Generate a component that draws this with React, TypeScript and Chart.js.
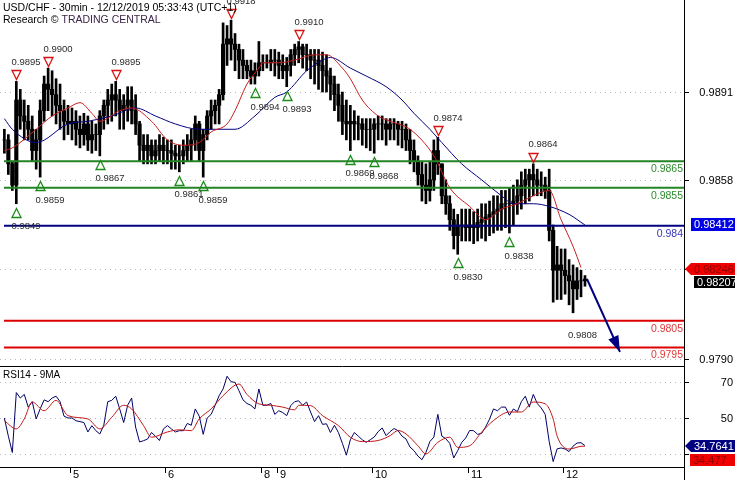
import React, { useEffect, useRef } from "react";
import { Chart, registerables } from "chart.js";
Chart.register(...registerables);

const FONT = "'Liberation Sans', Arial, sans-serif";

// ---- x axis: hourly bar index (Dec 4 07:00 ... Dec 12 05:00, UTC+1) ----
const dayStartIdx = [17, 41, 65, 69, 93, 117, 141];
const dayLabels = ["5", "6", "8", "9", "10", "11", "12"];

// ---- USD/CHF bars ----
const highs = [
  0.9877, 0.9875, 0.9865, 0.9895, 0.9892, 0.9888, 0.9886, 0.9882, 0.9877, 0.9888, 0.9897, 0.9900, 0.9899, 0.9896, 0.9894, 0.9888, 0.9886,
  0.9885, 0.9884, 0.9882, 0.9883, 0.9882, 0.9880, 0.9879, 0.9884, 0.9888, 0.9892, 0.9894, 0.9895, 0.9892, 0.9890, 0.9893, 0.9893, 0.9890, 0.9880, 0.9875, 0.9875, 0.9873, 0.9873, 0.9875, 0.9874,
  0.9873, 0.9873, 0.9871, 0.9871, 0.9873, 0.9875, 0.9877, 0.9882, 0.9880, 0.9877, 0.9884, 0.9888, 0.9888, 0.9892, 0.9917, 0.9916, 0.9918, 0.9913, 0.9909, 0.9907, 0.9903, 0.9903, 0.9902, 0.9910,
  0.9905, 0.9905, 0.9907, 0.9907,
  0.9906, 0.9905, 0.9904, 0.9907, 0.9909, 0.9910, 0.9909, 0.9909, 0.9907, 0.9907, 0.9907, 0.9906, 0.9905, 0.9900, 0.9897, 0.9894, 0.9891, 0.9888, 0.9886, 0.9884, 0.9882, 0.9881, 0.9881, 0.9881,
  0.9881, 0.9882, 0.9882, 0.9881, 0.9881, 0.9881, 0.9880, 0.9880, 0.9879, 0.9877, 0.9873, 0.9867, 0.9865, 0.9864, 0.9865, 0.9873, 0.9874, 0.9864, 0.9858, 0.9852, 0.9847, 0.9845, 0.9847, 0.9847,
  0.9847, 0.9846, 0.9847, 0.9849, 0.9849, 0.9850, 0.9852, 0.9852, 0.9854, 0.9854, 0.9855, 0.9856, 0.9858, 0.9861, 0.9862, 0.9862, 0.9864, 0.9862, 0.9861, 0.9859, 0.9862, 0.9841, 0.9833, 0.9832,
  0.9832, 0.9828, 0.9826, 0.9825, 0.9824, 0.9822,
];
const lows = [
  0.9868, 0.9860, 0.9854, 0.9849, 0.9877, 0.9873, 0.9873, 0.9865, 0.9862, 0.9859, 0.9880, 0.9884, 0.9882, 0.9879, 0.9877, 0.9873, 0.9875,
  0.9873, 0.9871, 0.9870, 0.9871, 0.9869, 0.9868, 0.9869, 0.9867, 0.9877, 0.9879, 0.9880, 0.9882, 0.9877, 0.9877, 0.9880, 0.9879, 0.9875, 0.9865, 0.9864, 0.9864, 0.9864, 0.9864, 0.9865, 0.9864,
  0.9864, 0.9862, 0.9862, 0.9861, 0.9864, 0.9865, 0.9865, 0.9869, 0.9865, 0.9859, 0.9873, 0.9877, 0.9879, 0.9879, 0.9888, 0.9901, 0.9903, 0.9899, 0.9896, 0.9896, 0.9896, 0.9894, 0.9894, 0.9897,
  0.9899, 0.9900, 0.9899, 0.9897,
  0.9896, 0.9896, 0.9893, 0.9897, 0.9901, 0.9902, 0.9900, 0.9899, 0.9896, 0.9894, 0.9892, 0.9891, 0.9891, 0.9888, 0.9884, 0.9880, 0.9875, 0.9873, 0.9869, 0.9873, 0.9873, 0.9871, 0.9870, 0.9869,
  0.9868, 0.9873, 0.9873, 0.9871, 0.9873, 0.9873, 0.9871, 0.9870, 0.9869, 0.9864, 0.9861, 0.9856, 0.9850, 0.9849, 0.9850, 0.9854, 0.9860, 0.9849, 0.9845, 0.9839, 0.9832, 0.9830, 0.9835, 0.9835,
  0.9835, 0.9834, 0.9835, 0.9836, 0.9835, 0.9837, 0.9838, 0.9839, 0.9839, 0.9840, 0.9838, 0.9841, 0.9845, 0.9847, 0.9849, 0.9850, 0.9852, 0.9852, 0.9852, 0.9851, 0.9835, 0.9812, 0.9813, 0.9813,
  0.9815, 0.9811, 0.9808, 0.9813, 0.9814, 0.9818,
];
const closes = [
  0.9873, 0.9864, 0.9856, 0.9888, 0.9882, 0.9880, 0.9877, 0.9869, 0.9873, 0.9884, 0.9894, 0.9892, 0.9890, 0.9886, 0.9884, 0.9880, 0.9879,
  0.9880, 0.9877, 0.9875, 0.9879, 0.9873, 0.9875, 0.9875, 0.9882, 0.9886, 0.9888, 0.9890, 0.9888, 0.9884, 0.9886, 0.9888, 0.9884, 0.9879, 0.9871, 0.9869, 0.9871, 0.9867, 0.9869, 0.9871, 0.9869,
  0.9869, 0.9868, 0.9867, 0.9867, 0.9869, 0.9871, 0.9873, 0.9879, 0.9869, 0.9875, 0.9882, 0.9884, 0.9886, 0.9890, 0.9909, 0.9911, 0.9909, 0.9907, 0.9903, 0.9901, 0.9899, 0.9897, 0.9899, 0.9902,
  0.9902, 0.9902, 0.9903, 0.9903,
  0.9901, 0.9899, 0.9901, 0.9905, 0.9907, 0.9908, 0.9905, 0.9905, 0.9903, 0.9903, 0.9901, 0.9899, 0.9897, 0.9894, 0.9890, 0.9886, 0.9880, 0.9879, 0.9880, 0.9879, 0.9879, 0.9877, 0.9877, 0.9877,
  0.9879, 0.9879, 0.9879, 0.9877, 0.9879, 0.9879, 0.9877, 0.9877, 0.9873, 0.9869, 0.9865, 0.9860, 0.9856, 0.9854, 0.9858, 0.9869, 0.9864, 0.9852, 0.9849, 0.9843, 0.9837, 0.9841, 0.9841, 0.9840,
  0.9841, 0.9840, 0.9842, 0.9843, 0.9844, 0.9845, 0.9846, 0.9847, 0.9849, 0.9849, 0.9849, 0.9850, 0.9852, 0.9856, 0.9858, 0.9860, 0.9858, 0.9856, 0.9856, 0.9854, 0.9839, 0.9824, 0.9826, 0.9824,
  0.9822, 0.9820, 0.9817, 0.9820, 0.9820, 0.98207,
];

// ---- moving averages on price (read at sample bars) ----
const maFastIdx = [0, 2, 8, 12, 16, 19, 22, 24, 29, 32, 37, 41, 45, 49, 52, 56, 58, 61, 64, 65, 69, 73, 78, 81, 85, 87, 90, 94, 97, 102, 108, 112, 117, 121, 125, 129, 133, 137, 140, 143, 145];
const maFastVal = [0.9869, 0.9870, 0.9877, 0.9882, 0.9885, 0.9887, 0.9883, 0.9880, 0.9884, 0.9885, 0.9880, 0.9873, 0.9871, 0.9872, 0.9876, 0.9879, 0.9884, 0.9894, 0.9900, 0.9902, 0.9902, 0.9903, 0.9905, 0.9905, 0.9900, 0.9896, 0.9888, 0.9882, 0.9880, 0.9877, 0.9867, 0.9855, 0.9848, 0.9843, 0.9847, 0.9849, 0.9852, 0.9854, 0.9843, 0.9833, 0.9825];
const maSlowIdx = [0, 2, 8, 16, 21, 27, 33, 38, 43, 49, 54, 58, 63, 68, 71, 76, 80, 82, 87, 91, 96, 100, 103, 107, 110, 115, 120, 125, 128, 133, 137, 142, 146];
const maSlowVal = [0.9881, 0.9877, 0.9872, 0.9879, 0.9880, 0.9882, 0.9885, 0.9882, 0.9879, 0.9877, 0.9877, 0.9877, 0.9882, 0.9889, 0.9891, 0.9899, 0.9903, 0.9904, 0.9900, 0.9897, 0.9893, 0.9888, 0.9883, 0.9877, 0.9872, 0.9864, 0.9858, 0.9852, 0.9849, 0.9849, 0.9848, 0.9845, 0.9841];

// ---- support / resistance levels ----
const levelValues = [0.9865, 0.9855, 0.98407, 0.9805, 0.9795];
const levelLabels = ["0.9865", "0.9855", "0.984", "0.9805", "0.9795"];

// ---- marked swing highs / lows ----
const peakIdx = [3, 11, 28, 57, 74, 109, 133];
const peakVal = [0.9895, 0.99, 0.9895, 0.9918, 0.991, 0.9874, 0.9864];
const troughIdx = [3, 9, 24, 44, 50, 63, 71, 87, 93, 114, 127];
const troughVal = [0.9849, 0.9859, 0.9867, 0.9861, 0.9859, 0.9894, 0.9893, 0.9869, 0.9868, 0.983, 0.9838];
const targetIdx = [143];
const targetVal = [0.9808];

// ---- forecast arrow ----
const forecastIdx = [146.5, 154.8];
const forecastVal = [0.98207, 0.97933];

// ---- price axis ----
const priceTicks = [0.9891, 0.98578, 0.98245, 0.97905];
const priceTickLabels = ["0.9891", "0.9858", "", "0.9790"];
const priceTagValues = [0.98412, 0.98246, 0.98207];
const priceTagLabels = ["0.98412", "0.98246", "0.98207"];

// ---- RSI(14) and its 9MA ----
const rsiValues = [
  50, 40, 31, 64, 61, 63, 56, 59, 49.5, 55, 60, 59, 61, 62, 59, 51, 50,
  50, 48.5, 48, 47.5, 42.3, 45.8, 43, 41.2, 46, 59, 59.7, 62, 55, 47.5, 57, 61, 45, 36.8, 37.5, 38.4, 42, 40, 37.6, 44,
  45.8, 44, 42.3, 43, 43, 47, 46, 55, 51, 41, 50, 52, 57, 62.3, 66, 73, 70, 69.6, 65, 60, 58, 57, 55, 66,
  57, 57, 58, 52,
  54, 53, 51.3, 56.8, 59, 59.5, 57, 58.8, 53.3, 48, 51.3, 46.5, 46.8, 42, 46, 42, 36, 29.5, 38, 42, 40, 38, 36.6, 38,
  39.5, 42.5, 44.5, 40.3, 42.5, 44.2, 43, 40, 38.4, 34, 32, 29, 27, 31, 37, 39.5, 52, 40, 38.6, 36, 28, 32, 36.5, 39,
  43.1, 43, 41, 41.5, 45, 49.4, 55, 54, 56, 56, 51.5, 55, 53.5, 59, 62, 56, 63, 58, 55.5, 52, 37, 26, 33, 33.5,
  32.9, 31.5, 34.5, 36.2, 36.4, 34.7641,
];
const rsiMaIdx = [0, 3, 5, 7, 10, 13, 16, 21, 24, 27, 30, 32, 35, 37, 41, 44, 47, 49, 52, 55, 59, 61, 64, 67, 70, 73, 74, 77, 80, 84, 87, 90, 94, 97, 99, 101, 104, 106, 109, 112, 114, 117, 120, 123, 127, 130, 133, 136, 138, 139, 142, 145, 146];
const rsiMaVal = [48.5, 44, 49.5, 58.8, 54, 59.7, 51.3, 49.5, 44, 50.4, 57, 55, 45.8, 39.4, 42.3, 43.5, 43, 49.5, 55, 62.3, 68.7, 63, 57.8, 57, 56, 54.5, 57, 56.8, 51.3, 45.8, 39.4, 37, 37.6, 40.3, 43.1, 41.2, 34.7, 30.2, 36.6, 39.4, 33.8, 34.7, 42.2, 48.6, 53.3, 53.3, 58.8, 57.8, 49.5, 40, 32.9, 34.4, 34.477];
const rsiTicks = [70, 50, 30];
const rsiTickLabels = ["70", "50", ""];
const rsiTagValues = [34.7641, 34.477];
const rsiTagLabels = ["34.7641", "34.477"];

const X_MIN = -1.1;
const X_MAX = 170.9;
const PRICE_MIN = 0.9788;
const PRICE_MAX = 0.99256;
const RSI_MIN = 23.0;
const RSI_MAX = 78.65;

const AXIS_X = 684;

function hLine(ctx: CanvasRenderingContext2D, x0: number, x1: number, y: number) {
  ctx.beginPath();
  ctx.moveTo(x0, y);
  ctx.lineTo(x1, y);
  ctx.stroke();
}

function drawTag(ctx: CanvasRenderingContext2D, top: number, h: number, left: number, arrow: boolean, bg: string, fg: string, text: string) {
  ctx.fillStyle = bg;
  ctx.beginPath();
  if (arrow) {
    ctx.moveTo(AXIS_X + 1, top + h / 2);
    ctx.lineTo(left, top);
    ctx.lineTo(735, top);
    ctx.lineTo(735, top + h);
    ctx.lineTo(left, top + h);
  } else {
    ctx.rect(left, top, 735 - left, h);
  }
  ctx.closePath();
  ctx.fill();
  ctx.fillStyle = fg;
  ctx.font = `11px ${FONT}`;
  ctx.textAlign = "left";
  ctx.textBaseline = "middle";
  ctx.fillText(text, left + 3, top + h / 2 + 0.5);
}

const pricePlugin = {
  id: "pricePane",
  beforeDatasetsDraw(chart: any) {
    const { ctx, chartArea: a, scales } = chart;
    const y = scales.y;
    ctx.save();
    ctx.strokeStyle = "#b8b8b8";
    ctx.lineWidth = 1;
    ctx.setLineDash([1, 4]);
    priceTicks.forEach((v) => hLine(ctx, a.left, a.right, Math.round(y.getPixelForValue(v)) + 0.5));
    ctx.restore();
  },
  afterDatasetsDraw(chart: any) {
    const { ctx, chartArea: a, scales } = chart;
    const x = scales.x;
    const y = scales.y;
    ctx.save();

    // level labels
    const levelTextColors = ["#2e8b2e", "#2e8b2e", "#3535b8", "#e03a3a", "#e03a3a"];
    ctx.font = `10.5px ${FONT}`;
    ctx.textAlign = "right";
    ctx.textBaseline = "middle";
    levelValues.forEach((v, i) => {
      ctx.fillStyle = levelTextColors[i];
      ctx.fillText(levelLabels[i], a.right - 1, y.getPixelForValue(v) + 8);
    });

    // arrow head
    const x0 = x.getPixelForValue(forecastIdx[0]);
    const y0 = y.getPixelForValue(forecastVal[0]);
    const x1 = x.getPixelForValue(forecastIdx[1]);
    const y1 = y.getPixelForValue(forecastVal[1]);
    const ang = Math.atan2(y1 - y0, x1 - x0);
    const L = 16, W = 5.5;
    const bx = x1 - L * Math.cos(ang), by = y1 - L * Math.sin(ang);
    ctx.fillStyle = "#000080";
    ctx.beginPath();
    ctx.moveTo(x1, y1);
    ctx.lineTo(bx + W * Math.sin(ang), by - W * Math.cos(ang));
    ctx.lineTo(bx - W * Math.sin(ang), by + W * Math.cos(ang));
    ctx.closePath();
    ctx.fill();

    // swing markers
    ctx.lineWidth = 1.3;
    ctx.font = `9.5px ${FONT}`;
    ctx.textAlign = "left";
    ctx.textBaseline = "middle";
    peakIdx.forEach((idx, i) => {
      const cx = Math.round(x.getPixelForValue(idx)) + 0.5;
      const hy = y.getPixelForValue(peakVal[i]);
      const top = Math.round(hy - 11) + 0.5;
      ctx.strokeStyle = "#d81010";
      ctx.beginPath();
      ctx.moveTo(cx - 4.5, top);
      ctx.lineTo(cx + 4.5, top);
      ctx.lineTo(cx, top + 9);
      ctx.closePath();
      ctx.stroke();
      ctx.fillStyle = "#2a2a2a";
      ctx.fillText(peakVal[i].toFixed(4), cx - 5, hy - 19);
    });
    troughIdx.forEach((idx, i) => {
      const cx = Math.round(x.getPixelForValue(idx)) + 0.5;
      const ly = y.getPixelForValue(troughVal[i]);
      const top = Math.round(ly + 4) + 0.5;
      ctx.strokeStyle = "#1a8a1a";
      ctx.beginPath();
      ctx.moveTo(cx, top);
      ctx.lineTo(cx + 4.5, top + 9);
      ctx.lineTo(cx - 4.5, top + 9);
      ctx.closePath();
      ctx.stroke();
      ctx.fillStyle = "#2a2a2a";
      ctx.fillText(troughVal[i].toFixed(4), cx - 5, ly + 23);
    });
    targetIdx.forEach((idx, i) => {
      const cx = x.getPixelForValue(idx);
      const ly = y.getPixelForValue(targetVal[i]);
      ctx.fillStyle = "#2a2a2a";
      ctx.fillText(targetVal[i].toFixed(4), cx - 5, ly + 23);
    });

    // title
    ctx.fillStyle = "#000";
    ctx.font = `10.5px ${FONT}`;
    ctx.fillText("USD/CHF - 30min - 12/12/2019 05:33:43 (UTC+1)", 3, 8);
    ctx.fillText("Research © ", 3, 20);
    const w = ctx.measureText("Research © ").width;
    ctx.fillStyle = "#3c2448";
    ctx.fillText("TRADING CENTRAL", 3 + w, 20);

    // axis frame
    ctx.strokeStyle = "#000";
    ctx.lineWidth = 1;
    ctx.setLineDash([]);
    ctx.beginPath();
    ctx.moveTo(AXIS_X + 0.5, 0);
    ctx.lineTo(AXIS_X + 0.5, chart.height);
    ctx.stroke();

    // price axis ticks and labels
    ctx.font = `11px ${FONT}`;
    ctx.textAlign = "right";
    ctx.fillStyle = "#000";
    priceTicks.forEach((v, i) => {
      const py = Math.round(y.getPixelForValue(v)) + 0.5;
      hLine(ctx, AXIS_X, AXIS_X + 5, py);
      if (priceTickLabels[i]) ctx.fillText(priceTickLabels[i], 733, py);
    });

    // price tags
    const h = 12;
    const tBlue = Math.round(y.getPixelForValue(priceTagValues[0]) - h / 2);
    drawTag(ctx, tBlue, 13, 691, false, "#0000e6", "#ffffff", priceTagLabels[0]);
    const tRed = Math.round(y.getPixelForValue(priceTagValues[1]) - h / 2);
    drawTag(ctx, tRed, h, 691, true, "#f00000", "#8c0000", priceTagLabels[1]);
    const tBlack = Math.max(Math.round(y.getPixelForValue(priceTagValues[2]) - h / 2), tRed + h + 1);
    drawTag(ctx, tBlack, h, 694, false, "#000000", "#ffffff", priceTagLabels[2]);

    ctx.restore();
  },
};

const rsiPlugin = {
  id: "rsiPane",
  beforeDatasetsDraw(chart: any) {
    const { ctx, chartArea: a, scales } = chart;
    const y = scales.y;
    ctx.save();
    ctx.strokeStyle = "#b8b8b8";
    ctx.lineWidth = 1;
    ctx.setLineDash([1, 4]);
    rsiTicks.forEach((v) => hLine(ctx, a.left, a.right, Math.round(y.getPixelForValue(v)) + 0.5));
    ctx.restore();
  },
  afterDatasetsDraw(chart: any) {
    const { ctx, chartArea: a, scales } = chart;
    const x = scales.x;
    const y = scales.y;
    ctx.save();
    ctx.strokeStyle = "#000";
    ctx.lineWidth = 1;
    hLine(ctx, 0, AXIS_X + 1, 0.5);
    hLine(ctx, 0, AXIS_X + 1, Math.round(a.bottom) + 0.5);
    ctx.beginPath();
    ctx.moveTo(AXIS_X + 0.5, 0);
    ctx.lineTo(AXIS_X + 0.5, chart.height);
    ctx.stroke();

    ctx.fillStyle = "#000";
    ctx.font = `10px ${FONT}`;
    ctx.textAlign = "left";
    ctx.textBaseline = "middle";
    ctx.fillText("RSI14 - 9MA", 3, 9);

    // day ticks
    ctx.font = `11px ${FONT}`;
    dayStartIdx.forEach((d, i) => {
      const px = Math.round(x.getPixelForValue(d - 0.5)) + 0.5;
      ctx.beginPath();
      ctx.moveTo(px, a.bottom);
      ctx.lineTo(px, a.bottom + 6);
      ctx.stroke();
      ctx.fillText(dayLabels[i], px + 2.5, a.bottom + 8);
    });

    // rsi axis
    ctx.textAlign = "right";
    rsiTicks.forEach((v, i) => {
      const py = Math.round(y.getPixelForValue(v)) + 0.5;
      hLine(ctx, AXIS_X, AXIS_X + 5, py);
      if (rsiTickLabels[i]) ctx.fillText(rsiTickLabels[i], 733, py);
    });

    const h = 12;
    const t1 = Math.round(y.getPixelForValue(rsiTagValues[0]) - h / 2);
    drawTag(ctx, t1, h, 691, true, "#000080", "#ffffff", rsiTagLabels[0]);
    const t2 = Math.max(Math.round(y.getPixelForValue(rsiTagValues[1]) - h / 2), t1 + h + 2);
    drawTag(ctx, t2, h, 690, false, "#f00000", "#8c0000", rsiTagLabels[1]);
    ctx.restore();
  },
};

export default function App() {
  const priceRef = useRef<HTMLCanvasElement>(null);
  const rsiRef = useRef<HTMLCanvasElement>(null);

  useEffect(() => {
    const idx = closes.map((_, i) => i);
    const rangeData = idx.map((i) => ({ x: i, y: [lows[i], highs[i]] }));
    const bodyData = idx.map((i) => ({ x: i, y: [i > 0 ? closes[i - 1] : closes[i], closes[i]] }));
    const fastData = maFastIdx.map((i, k) => ({ x: i, y: maFastVal[k] }));
    const slowData = maSlowIdx.map((i, k) => ({ x: i, y: maSlowVal[k] }));
    const levelColors = ["#238423", "#238423", "#000080", "#dc0000", "#dc0000"];
    const levelSets = levelValues.map((v, k) => ({
      type: "line" as const,
      data: [{ x: -0.1, y: v }, { x: X_MAX, y: v }],
      borderColor: levelColors[k],
      borderWidth: 2,
      pointRadius: 0,
      order: 1,
    }));

    const priceChart = new Chart(priceRef.current!, {
      type: "bar",
      data: {
        datasets: [
          ...levelSets,
          {
            type: "line",
            data: forecastIdx.map((i, k) => ({ x: i, y: forecastVal[k] })),
            borderColor: "#000080",
            borderWidth: 2,
            pointRadius: 0,
            order: 0,
          },
          {
            type: "line",
            data: fastData,
            borderColor: "#c81e1e",
            borderWidth: 1,
            pointRadius: 0,
            cubicInterpolationMode: "monotone",
            order: 2,
          },
          {
            type: "line",
            data: slowData,
            borderColor: "#000080",
            borderWidth: 1,
            pointRadius: 0,
            cubicInterpolationMode: "monotone",
            order: 3,
          },
          {
            type: "bar",
            data: bodyData as any,
            backgroundColor: "#000",
            barThickness: 3.5,
            grouped: false,
            order: 4,
          },
          {
            type: "bar",
            data: rangeData as any,
            backgroundColor: "#000",
            barThickness: 2,
            grouped: false,
            order: 5,
          },
        ] as any,
      },
      options: {
        responsive: false,
        animation: false,
        devicePixelRatio: 1,
        events: [],
        layout: { padding: { left: 0, right: 51, top: 0, bottom: 0 } },
        plugins: { legend: { display: false }, tooltip: { enabled: false } },
        scales: {
          x: { type: "linear", min: X_MIN, max: X_MAX, display: false, offset: false },
          y: { type: "linear", min: PRICE_MIN, max: PRICE_MAX, display: false },
        },
      },
      plugins: [pricePlugin],
    });

    const rsiChart = new Chart(rsiRef.current!, {
      type: "line",
      data: {
        datasets: [
          {
            data: rsiMaIdx.map((i, k) => ({ x: i, y: rsiMaVal[k] })),
            borderColor: "#c01818",
            borderWidth: 1,
            pointRadius: 0,
            cubicInterpolationMode: "monotone",
            order: 1,
          },
          {
            data: rsiValues.map((v, i) => ({ x: i, y: v })),
            borderColor: "#000066",
            borderWidth: 1,
            pointRadius: 0,
            tension: 0,
            order: 2,
          },
        ],
      },
      options: {
        responsive: false,
        animation: false,
        devicePixelRatio: 1,
        events: [],
        layout: { padding: { left: 0, right: 51, top: 0, bottom: 13 } },
        plugins: { legend: { display: false }, tooltip: { enabled: false } },
        scales: {
          x: { type: "linear", min: X_MIN, max: X_MAX, display: false },
          y: { type: "linear", min: RSI_MIN, max: RSI_MAX, display: false },
        },
      },
      plugins: [rsiPlugin],
    });

    return () => {
      priceChart.destroy();
      rsiChart.destroy();
    };
  }, []);

  return (
    <div style={{ position: "absolute", left: 0, top: 0, width: 735, height: 480, background: "#fff" }}>
      <canvas ref={priceRef} width={735} height={366} style={{ display: "block", position: "absolute", left: 0, top: 0 }} />
      <canvas ref={rsiRef} width={735} height={114} style={{ display: "block", position: "absolute", left: 0, top: 366 }} />
    </div>
  );
}
